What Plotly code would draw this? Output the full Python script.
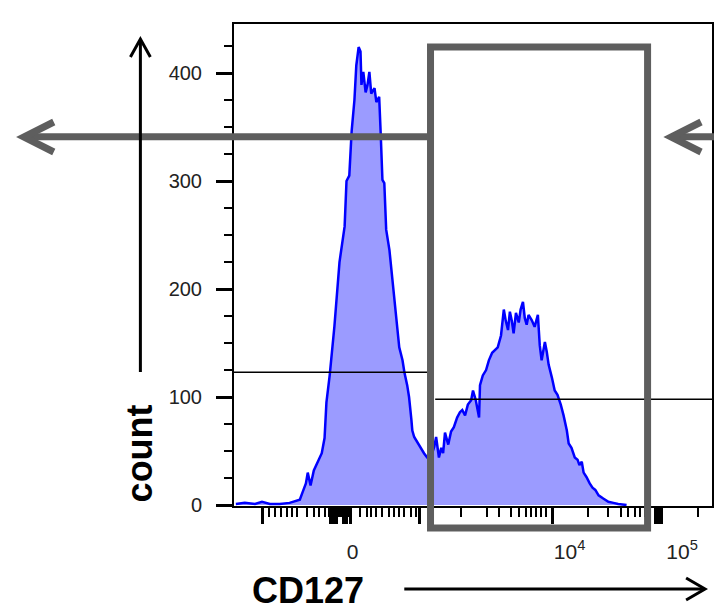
import plotly.graph_objects as go

# ---------------- data (x in display channels 0..1024, y = cell count) -------------
channel = [4, 23, 45, 60, 77, 98, 119, 132, 141, 147,
           154, 158, 164, 171, 179, 188, 194, 198, 205, 215,
           226, 237, 241, 247, 252, 258, 262, 267, 271, 273,
           277, 282, 286, 290, 294, 301, 305, 311, 314, 318,
           322, 326, 333, 341, 350, 354, 361, 365, 371, 375,
           380, 382, 386, 390, 397, 403, 407, 414, 420, 429,
           433, 439, 444, 448, 452, 459, 465, 471, 478, 484,
           489, 495, 501, 508, 512, 518, 525, 527, 533, 540,
           546, 553, 559, 565, 572, 578, 582, 587, 591, 595,
           599, 604, 610, 614, 619, 623, 627, 631, 638, 644,
           651, 655, 659, 666, 670, 674, 681, 687, 693, 700,
           706, 713, 717, 723, 730, 736, 740, 745, 749, 755,
           762, 768, 774, 781, 791, 802, 813, 823, 841]
counts = [1, 2, 1, 3, 1, 1, 2, 4, 5, 12,
          20, 30, 18, 32, 39, 48, 62, 95, 120, 165,
          225, 258, 300, 305, 346, 375, 407, 424, 420, 389,
          401, 382, 389, 401, 381, 386, 373, 378, 347, 301,
          298, 255, 236, 199, 162, 146, 134, 123, 111, 100,
          79, 69, 63, 60, 56, 51, 48, 44, 42, 54,
          63, 44, 53, 48, 67, 56, 68, 72, 81, 86,
          88, 83, 93, 97, 106, 97, 81, 111, 120, 125,
          134, 141, 144, 146, 157, 181, 171, 162, 179, 171,
          159, 178, 169, 181, 188, 173, 167, 176, 171, 165,
          176, 148, 134, 151, 142, 130, 118, 106, 102, 93,
          83, 69, 57, 53, 44, 42, 37, 40, 30, 26,
          20, 16, 14, 9, 6, 3, 2, 1, 0]
assert len(channel) == len(counts)

# axis ticks (display channels)
x_major_ticks = [62, 207, 213, 220, 235, 241, 250, 397, 683, 902, 909, 915]
x_minor_ticks = [75, 87, 100, 113, 124, 134, 156, 171, 183, 196, 203, 210, 216,
                 224, 228, 230, 238, 244, 246, 269, 284, 294, 305, 318, 333, 343,
                 354, 365, 380, 390, 486, 542, 567, 593, 610, 625, 636, 646, 657,
                 668, 759, 802, 828, 845, 860, 870, 881, 994]
x_label_vals = [254, 719, 960]
x_label_text = ["0", "10<sup>4</sup>", "10<sup>5</sup>"]
y_tick_vals = [0, 100, 200, 300, 400]

# gate and statistic lines
gate_left, gate_right = 421, 886
stat_left = dict(x0=0, x1=414, y=123)
stat_right = dict(x0=431, x1=1024, y=98)
arrow_level = 341

X_RANGE = [0, 1024]
Y_RANGE = [-0.9, 445.4]

# figure geometry helpers (for decorations outside the plot)
L, R, T, B = 234, 1, 24, 108
W, H = 715, 614
PW, PH = W - L - R, H - T - B


def px(xp):
    return (xp - L) / PW


def py(yp):
    return (H - B - yp) / PH


FONT = "Liberation Sans, Arial, Helvetica, sans-serif"
GRAY = "#5e5e5e"

fig = go.Figure()
fig.add_trace(go.Scatter(
    x=channel, y=counts, mode="lines", fill="tozeroy",
    fillcolor="#9b9bff", line=dict(color="#0000ff", width=2.5),
    hoverinfo="skip"))
# invisible trace for label axis
fig.add_trace(go.Scatter(x=[X_RANGE[0]], y=[0], xaxis="x2", mode="markers",
                         marker=dict(opacity=0), hoverinfo="skip"))

fig.update_layout(
    width=W, height=H, margin=dict(l=L, r=R, t=T, b=B),
    paper_bgcolor="white", plot_bgcolor="white", showlegend=False,
    font=dict(family=FONT, color="#222"),
    xaxis=dict(range=X_RANGE, showgrid=False, zeroline=False,
               showline=True, linecolor="black", linewidth=2, mirror=True,
               ticks="outside", tickmode="array", tickvals=x_major_ticks,
               ticklen=16, tickwidth=3, tickcolor="black",
               showticklabels=False,
               minor=dict(tickmode="array", tickvals=x_minor_ticks,
                          ticks="outside", ticklen=9, tickwidth=2,
                          tickcolor="black", showgrid=False)),
    xaxis2=dict(range=X_RANGE, overlaying="x", side="bottom", anchor="y",
                showgrid=False, zeroline=False, showline=False, ticks="",
                tickmode="array", tickvals=x_label_vals, ticktext=x_label_text,
                tickfont=dict(size=21, color="#222", family=FONT),
                ticklabelstandoff=31),
    yaxis=dict(range=Y_RANGE, showgrid=False, zeroline=False,
               showline=True, linecolor="black", linewidth=2, mirror=True,
               ticks="outside", tickmode="array", tickvals=y_tick_vals,
               ticklen=16, tickwidth=3, tickcolor="black",
               tickfont=dict(size=20, color="#222", family=FONT),
               ticklabelstandoff=10,
               minor=dict(tickmode="linear", tick0=0, dtick=25,
                          ticks="outside", ticklen=8, tickwidth=2,
                          tickcolor="black", showgrid=False)),
)

shapes = []
# statistic lines
for s in (stat_left, stat_right):
    shapes.append(dict(type="line", xref="x", yref="y", x0=s["x0"], x1=s["x1"],
                       y0=s["y"], y1=s["y"], line=dict(color="black", width=1.5)))
# gate rectangle
shapes.append(dict(type="rect", xref="x", yref="paper", x0=gate_left, x1=gate_right,
                   y0=py(528), y1=py(47), line=dict(color=GRAY, width=7)))
# gray arrows (left and right)
shapes.append(dict(type="line", xref="paper", yref="y", x0=px(24), x1=px(428),
                   y0=arrow_level, y1=arrow_level, line=dict(color=GRAY, width=7)))
shapes.append(dict(type="path", xref="paper", yref="paper",
                   path=f"M {px(53)},{py(122)} L {px(23)},{py(137)} L {px(53)},{py(152)}",
                   line=dict(color=GRAY, width=7)))
shapes.append(dict(type="line", xref="paper", yref="y", x0=px(674), x1=px(716),
                   y0=arrow_level, y1=arrow_level, line=dict(color=GRAY, width=7)))
shapes.append(dict(type="path", xref="paper", yref="paper",
                   path=f"M {px(703)},{py(122)} L {px(673)},{py(137)} L {px(703)},{py(152)}",
                   line=dict(color=GRAY, width=7)))
# black vertical arrow (count)
shapes.append(dict(type="line", xref="paper", yref="paper", x0=px(140), x1=px(140),
                   y0=py(372), y1=py(40), line=dict(color="black", width=3)))
shapes.append(dict(type="path", xref="paper", yref="paper",
                   path=f"M {px(130)},{py(57)} L {px(140)},{py(39)} L {px(150)},{py(57)}",
                   line=dict(color="black", width=3)))
# black horizontal arrow (CD127)
shapes.append(dict(type="line", xref="paper", yref="paper", x0=px(405), x1=px(706),
                   y0=py(589), y1=py(589), line=dict(color="black", width=3)))
shapes.append(dict(type="path", xref="paper", yref="paper",
                   path=f"M {px(688)},{py(578)} L {px(707)},{py(589)} L {px(688)},{py(600)}",
                   line=dict(color="black", width=3)))
fig.update_layout(shapes=shapes)

fig.add_annotation(text="<b>CD127</b>", xref="paper", yref="paper",
                   x=px(308), y=py(590), xanchor="center", yanchor="middle",
                   showarrow=False,
                   font=dict(size=36, color="black", family=FONT))
fig.add_annotation(text="<b>count</b>", xref="paper", yref="paper",
                   x=px(139), y=py(453), xanchor="center", yanchor="middle",
                   showarrow=False, textangle=-90,
                   font=dict(size=36, color="black", family=FONT))

fig.write_html("out.html")
